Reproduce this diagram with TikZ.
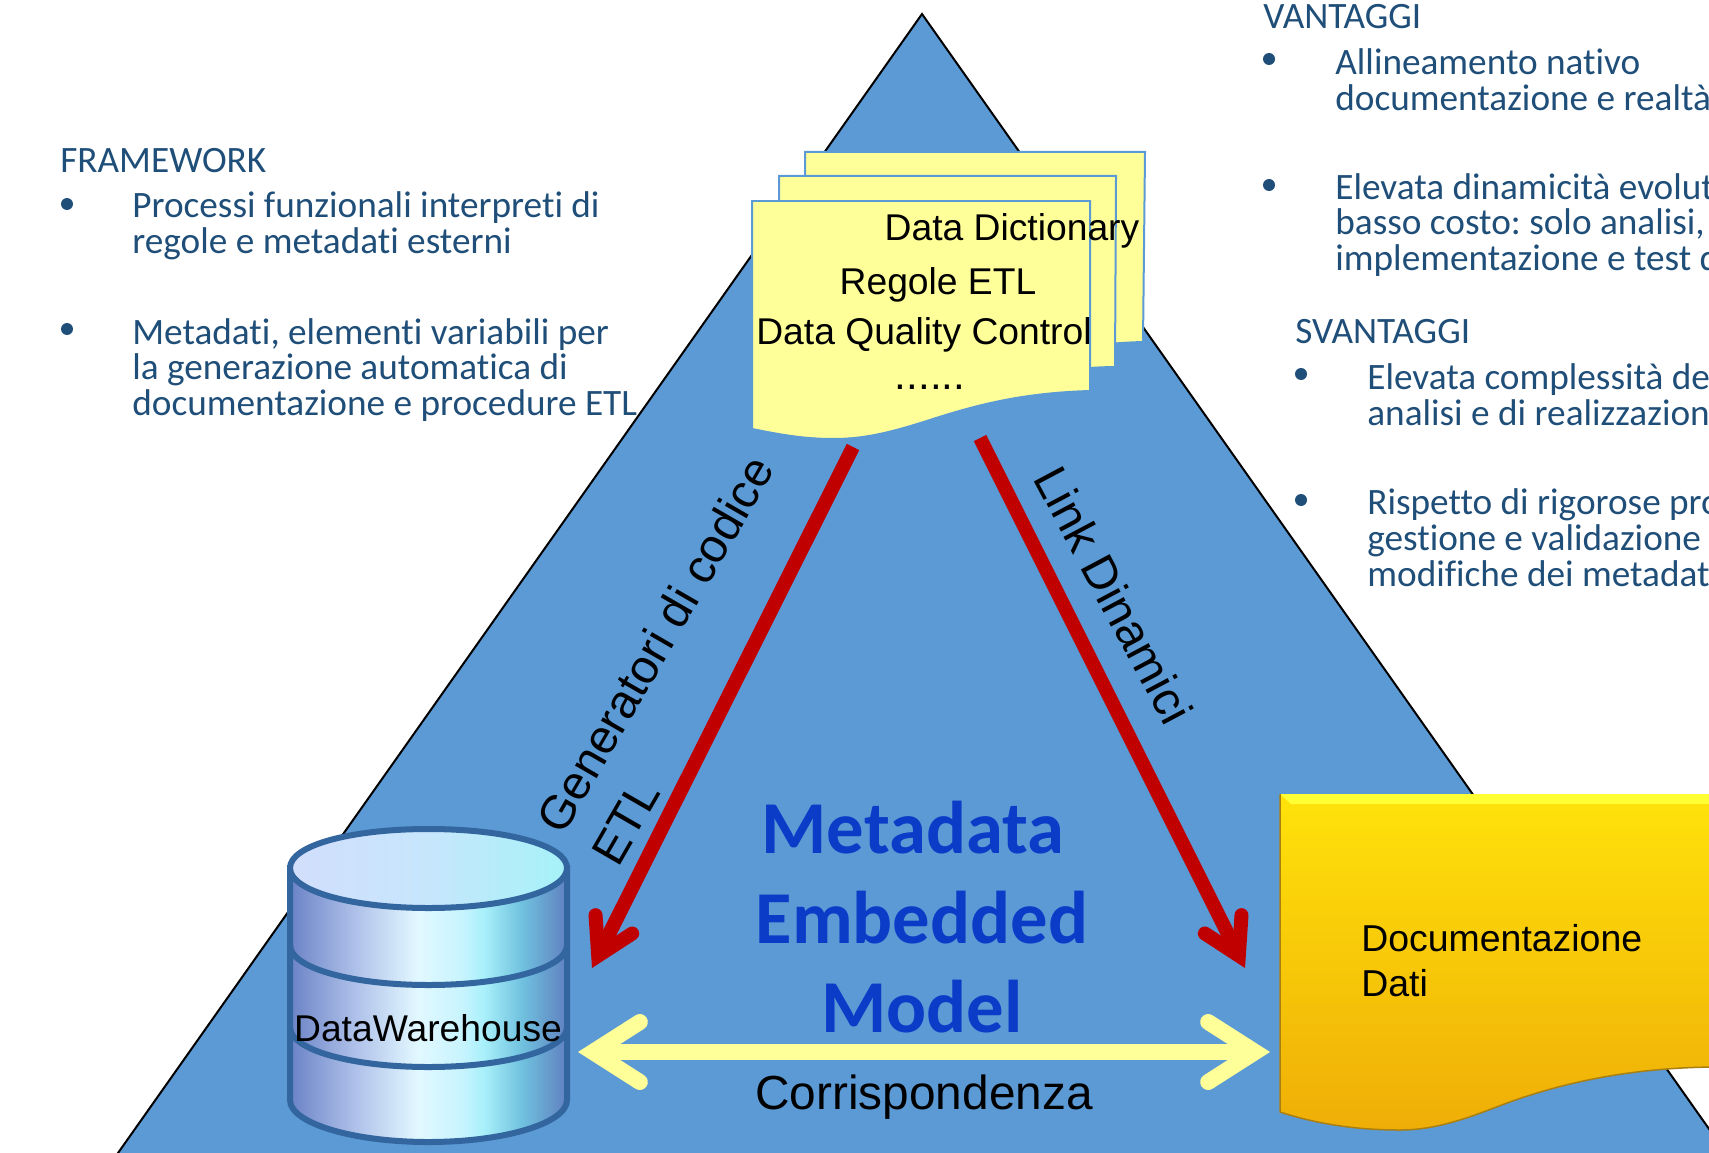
\documentclass[tikz,border=0pt]{standalone}
\usepackage{fontspec}
\setmainfont{Liberation Sans}
\newfontfamily\carlito[Ligatures=CommonOff]{Carlito}
\usetikzlibrary{arrows.meta,calc}

\definecolor{pyramidblue}{HTML}{5B9AD5}
\definecolor{sheetyellow}{HTML}{FFFF99}
\definecolor{notecolor}{HTML}{1F4E79}
\definecolor{arrowred}{HTML}{C00000}
\definecolor{titleblue}{HTML}{0B3CC8}
\definecolor{dbedge}{HTML}{33669F}
\definecolor{dbA}{HTML}{6B83C6}
\definecolor{dbB}{HTML}{B0C2EA}
\definecolor{dbC}{HTML}{E2F8FF}
\definecolor{dbD}{HTML}{C8F4FE}
\definecolor{dbE}{HTML}{A8F0FA}
\definecolor{dbF}{HTML}{6FC0DE}
\definecolor{dbG}{HTML}{6080C0}
\definecolor{capA}{HTML}{D2DEFC}
\definecolor{capB}{HTML}{C6E6FC}
\definecolor{capC}{HTML}{A6F2F8}
\definecolor{goldA}{HTML}{FFE20A}
\definecolor{goldB}{HTML}{FFCB05}
\definecolor{goldC}{HTML}{EFAE07}
\definecolor{goldlip}{HTML}{FFFF33}
\definecolor{goldedge}{HTML}{A87F10}

\pgfdeclarehorizontalshading{dbside}{100bp}{color(0bp)=(dbA); color(25bp)=(dbA); color(37bp)=(dbB); color(48bp)=(dbC); color(56bp)=(dbD); color(60bp)=(dbE); color(67bp)=(dbF); color(75bp)=(dbG); color(100bp)=(dbG)}
\pgfdeclarehorizontalshading{dbtop}{100bp}{color(0bp)=(capA); color(25bp)=(capA); color(50bp)=(capB); color(75bp)=(capC); color(100bp)=(capC)}

\tikzset{
    notetext/.style={text=notecolor,font=\carlito\frenchspacing\fontsize{21.2}{20.4}\selectfont,align=left,anchor=west,inner sep=0pt},
    notedot/.style={circle,fill=notecolor,inner sep=0pt,minimum size=2.4mm},
    sheet/.style={fill=sheetyellow,draw=pyramidblue,line width=0.4mm},
    sheetlabel/.style={font=\fontsize{21.2}{24}\selectfont,inner sep=0pt},
    linklabel/.style={font=\fontsize{27}{36}\selectfont,inner sep=0pt,align=left},
    titlelabel/.style={text=titleblue,font=\carlito\bfseries\fontsize{42.5}{48}\selectfont,inner sep=0pt},
    redarrow/.style={draw=arrowred,line width=2.8mm,-{Straight Barb[length=7mm,width=8.2mm,line width=2.8mm,line cap=round,line join=miter]}},
    yellowarrow/.style={draw=sheetyellow,line width=3.2mm,{Straight Barb[length=9.4mm,width=12mm,line width=3.2mm,line cap=round,line join=miter]}-{Straight Barb[length=9.4mm,width=12mm,line width=3.2mm,line cap=round,line join=miter]}},
}

\begin{document}
\begin{tikzpicture}[x=0.02cm,y=-0.02cm]

    \useasboundingbox (0,0) rectangle (1709,1152);
    \clip (0,0) rectangle (1709,1152);

    \draw[fill=pyramidblue,draw=black,line width=0.4mm] (922,14) -- (106,1170) -- (1738,1170) -- cycle;

    % document stack
    \draw[sheet,shift={(805,152)}] (0,0) -- (340,0) -- (338,190) .. controls (270,192) and (225,204) .. (181,218) .. controls (135,233) and (110,238) .. (81,238) .. controls (50,238) and (25,233) .. (0,228) -- cycle;
    \draw[sheet,shift={(779,176)}] (0,0) -- (337,0) -- (336,191) .. controls (270,192) and (225,204) .. (181,218) .. controls (135,233) and (110,238) .. (81,238) .. controls (50,238) and (25,233) .. (0,228) -- cycle;
    \draw[sheet,shift={(752,201)}] (0,0) -- (338,0) -- (338,190) .. controls (270,192) and (225,204) .. (181,218) .. controls (135,233) and (110,238) .. (81,238) .. controls (50,238) and (25,233) .. (0,228) -- cycle;

    \node[sheetlabel] (dictionary) at (1012,231) {Data Dictionary};
    \node[sheetlabel] (rules) at (938,285) {Regole ETL};
    \node[sheetlabel] (quality) at (924,335) {Data Quality Control};
    \node[font=\fontsize{24}{28}\selectfont,inner sep=0pt,anchor=base] (dots) at (930,389) {......};

    % warehouse cylinder
    \draw[shading=dbside,draw=dbedge,line width=1.2mm] (290,868) -- (290,1100) .. controls (290,1123) and (352,1142) .. (428.5,1142) .. controls (505,1142) and (567,1123) .. (567,1100) -- (567,868) -- cycle;
    \foreach \bandy in {945,1027} {
        \draw[draw=dbedge,line width=1.2mm] (290,\bandy) .. controls (290,\bandy+23) and (352,\bandy+40) .. (428.5,\bandy+40) .. controls (505,\bandy+40) and (567,\bandy+23) .. (567,\bandy);
    }
    \draw[shading=dbtop,draw=dbedge,line width=1.2mm] (290,868) .. controls (290,845) and (352,829) .. (428.5,829) .. controls (505,829) and (567,845) .. (567,868) .. controls (567,891) and (505,908) .. (428.5,908) .. controls (352,908) and (290,891) .. (290,868) -- cycle;
    \node[font=\fontsize{21.2}{24}\selectfont,inner sep=0pt] (warehouse) at (428,1028) {DataWarehouse};

    % golden sheet
    \fill[top color=goldA,middle color=goldB,bottom color=goldC] (1280,794) -- (1720,794) -- (1720,1067) .. controls (1640,1067) and (1570,1080) .. (1507,1103) .. controls (1475,1115) and (1440,1130) .. (1400,1130) .. controls (1360,1130) and (1320,1125) .. (1280,1112) -- cycle;
    \fill[goldlip] (1280,794) -- (1720,794) -- (1720,804) -- (1291,804) -- cycle;
    \draw[draw=goldedge,line width=0.3mm] (1280,794) -- (1280,1112) .. controls (1320,1125) and (1360,1130) .. (1400,1130) .. controls (1440,1130) and (1475,1115) .. (1507,1103) .. controls (1570,1080) and (1640,1067) .. (1720,1067);
    \node[font=\fontsize{21.3}{25.5}\selectfont,inner sep=0pt,align=left,anchor=west] (goldtext) at (1361,961) {Documentazione\\Dati};

    % arrows
    \coordinate (sheetA) at (853,447);
    \coordinate (sheetB) at (980,438);
    \coordinate (baseA) at (592,968);
    \coordinate (baseB) at (1245,968);
    \coordinate (yellowL) at (578,1052);
    \coordinate (yellowR) at (1270,1052);
    \draw[redarrow] (sheetA) -- (baseA);
    \draw[redarrow] (sheetB) -- (baseB);
    \draw[yellowarrow] (yellowL) -- (yellowR);

    \node[linklabel,rotate=60] (generators) at (682,660) {Generatori di codice\\ETL};
    \node[linklabel,rotate=-62] (dynamic) at (1114,595) {Link Dinamici};
    \node[font=\fontsize{27.2}{30}\selectfont,inner sep=0pt] (match) at (924,1097) {Corrispondenza};

    \node[titlelabel] (titleA) at (913,828) {Metadata};
    \node[titlelabel] (titleB) at (922,918) {Embedded};
    \node[titlelabel] (titleC) at (922,1007) {Model};

    % left notes
    \node[notetext] (framework) at (60,161) {FRAMEWORK};
    \node[notedot] (dotA) at (67,204) {};
    \node[notetext] (noteA) at (132,226) {Processi funzionali interpreti di\\regole e metadati esterni};
    \node[notedot] (dotB) at (67,329) {};
    \node[notetext] (noteB) at (132,370) {Metadati, elementi variabili per\\la generazione automatica di\\documentazione e procedure ETL};

    % right notes
    \node[notetext] (pros) at (1263,17) {VANTAGGI};
    \node[notedot] (dotC) at (1269,59) {};
    \node[notetext] (noteC) at (1335,80) {Allineamento nativo\\documentazione e realtà};
    \node[notedot] (dotD) at (1269,185) {};
    \node[notetext] (noteD) at (1335,225) {Elevata dinamicità evolut\\basso costo: solo analisi,\\implementazione e test d};
    \node[notetext] (cons) at (1295,332) {SVANTAGGI};
    \node[notedot] (dotE) at (1301,374) {};
    \node[notetext] (noteE) at (1367,395) {Elevata complessità de\\analisi e di realizzazion};
    \node[notedot] (dotF) at (1301,500) {};
    \node[notetext] (noteF) at (1367,538) {Rispetto di rigorose pro\\gestione e validazione\\modifiche dei metadat};

\end{tikzpicture}
\end{document}
